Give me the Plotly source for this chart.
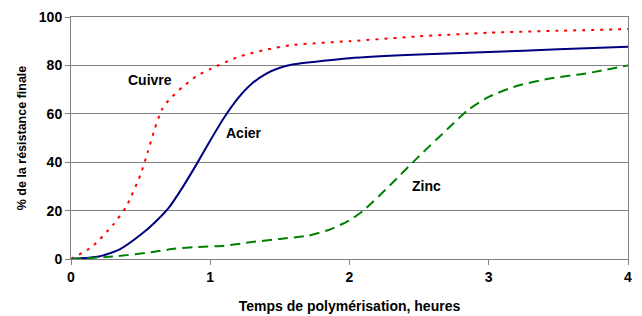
import plotly.graph_objects as go

cuivre_x = [0, 0.15, 0.3, 0.4, 0.5, 0.55, 0.6, 0.65, 0.7, 0.8, 0.9, 1.0, 1.2, 1.4, 1.6, 2.0, 2.5, 3.0, 3.5, 4.0]
cuivre_y = [0, 5, 14, 22, 35, 44, 53.5, 61.5, 65.5, 71, 75.5, 78.5, 83.5, 86.5, 88.5, 90, 92, 93.5, 94.3, 95]

acier_x = [0, 0.2, 0.35, 0.5, 0.6, 0.7, 0.8, 0.9, 1.0, 1.1, 1.2, 1.3, 1.4, 1.5, 1.6, 1.8, 2.0, 2.5, 3.0, 3.5, 4.0]
acier_y = [0, 1, 4, 10, 15, 21, 29.5, 39, 49, 58.5, 66.5, 72.5, 76.5, 79, 80.5, 81.8, 83, 84.5, 85.5, 86.7, 87.7]

zinc_x = [0, 0.3, 0.6, 0.75, 0.9, 1.1, 1.3, 1.5, 1.7, 1.85, 2.0, 2.1, 2.3, 2.5, 2.7, 2.85, 3.0, 3.2, 3.45, 3.7, 4.0]
zinc_y = [0, 1, 3, 4.3, 4.9, 5.5, 7, 8.3, 9.6, 12, 16, 20, 31, 42.5, 53.5, 61.5, 67, 71.5, 74.7, 76.7, 80]

x_ticks = [0, 1, 2, 3, 4]
y_ticks = [0, 20, 40, 60, 80, 100]

labels = [("Cuivre", 0.567, 74), ("Acier", 1.239, 52.2), ("Zinc", 2.55, 30)]

font = "Liberation Sans, Arial, sans-serif"

fig = go.Figure()
fig.add_trace(go.Scatter(x=cuivre_x, y=cuivre_y, mode="lines", name="Cuivre",
                         line=dict(color="#FF0000", width=2, dash="3px,6px", shape="spline", smoothing=0.6)))
fig.add_trace(go.Scatter(x=acier_x, y=acier_y, mode="lines", name="Acier",
                         line=dict(color="#000080", width=2, shape="spline", smoothing=0.6)))
fig.add_trace(go.Scatter(x=zinc_x, y=zinc_y, mode="lines", name="Zinc",
                         line=dict(color="#008000", width=2, dash="10px,6px", shape="spline", smoothing=0.6)))

for text, lx, ly in labels:
    fig.add_annotation(x=lx, y=ly, text="<b>%s</b>" % text, showarrow=False,
                       font=dict(family=font, size=14, color="#000000"))

fig.update_layout(
    width=634, height=308,
    margin=dict(l=63, r=14, t=9, b=57, autoexpand=False),
    paper_bgcolor="white", plot_bgcolor="white",
    showlegend=False,
    font=dict(family=font, size=14, color="#000000"),
    xaxis=dict(range=[0, 4], tickvals=x_ticks, ticktext=["<b>%d</b>" % v for v in x_ticks],
               showgrid=False, zeroline=False, showline=True, linecolor="#808080", linewidth=1,
               mirror=True, ticks="outside", ticklen=5, tickcolor="#808080",
               tickfont=dict(family=font, size=14),
               title=dict(text="<b>Temps de polymérisation, heures</b>", standoff=17,
                          font=dict(family=font, size=14))),
    yaxis=dict(range=[0, 100], tickvals=y_ticks, ticktext=["<b>%d</b>" % v for v in y_ticks],
               showgrid=True, gridcolor="#808080", gridwidth=1, zeroline=False,
               showline=True, linecolor="#808080", linewidth=1, mirror=True,
               ticks="outside", ticklen=5, tickcolor="#808080",
               tickfont=dict(family=font, size=14),
               title=dict(text="<b>% de la résistance finale</b>", standoff=9,
                          font=dict(family=font, size=12.5))),
)

fig.write_html("out.html")
